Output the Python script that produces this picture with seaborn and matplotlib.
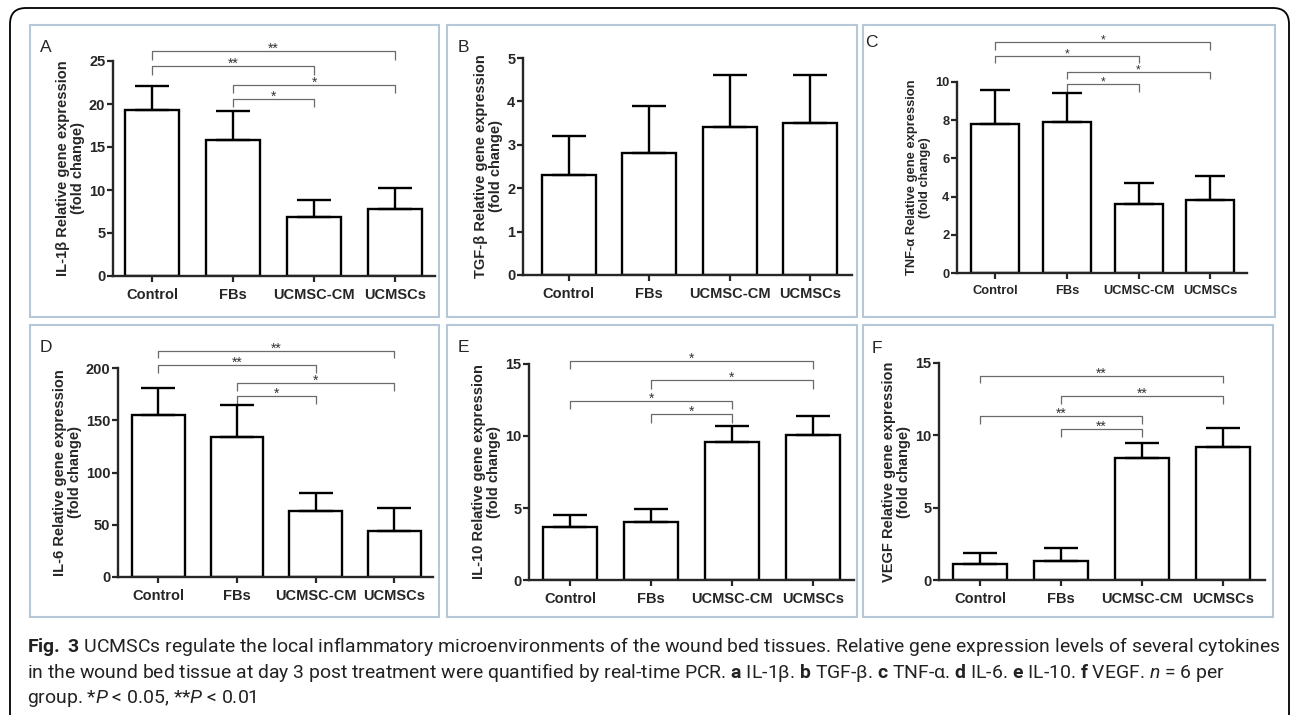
import numpy as np
import pandas as pd
import matplotlib
matplotlib.use("Agg")
import matplotlib.pyplot as plt
from matplotlib.patches import Rectangle, FancyBboxPatch
from matplotlib.transforms import IdentityTransform
import seaborn as sns

# ---- data ----
groups = ["Control", "FBs", "UCMSC-CM", "UCMSCs"]

il1b_mean = [19.3, 15.8, 6.9, 7.8]
il1b_sd = [2.8, 3.4, 1.9, 2.4]
tgfb_mean = [2.3, 2.8, 3.4, 3.5]
tgfb_sd = [0.9, 1.1, 1.2, 1.1]
tnfa_mean = [7.8, 7.9, 3.6, 3.8]
tnfa_sd = [1.8, 1.5, 1.1, 1.3]
il6_mean = [155, 134, 63, 44]
il6_sd = [26, 31, 17, 22]
il10_mean = [3.7, 4.0, 9.6, 10.1]
il10_sd = [0.8, 0.9, 1.1, 1.3]
vegf_mean = [1.1, 1.3, 8.4, 9.2]
vegf_sd = [0.8, 0.9, 1.1, 1.3]

# significance brackets: (group i, group j, bracket level, end level, stars)
il1b_sig = [(0, 3, 26.2, 25.1, "**"), (0, 2, 24.4, 23.4, "**"),
            (1, 3, 22.2, 21.3, "*"), (1, 2, 20.6, 19.65, "*")]
tgfb_sig = []
tnfa_sig = [(0, 3, 12.09, 11.68, "*"), (0, 2, 11.36, 11.0, "*"),
            (1, 3, 10.52, 10.16, "*"), (1, 2, 9.9, 9.48, "*")]
il6_sig = [(0, 3, 216, 209.6, "**"), (0, 2, 202.9, 195.2, "**"),
           (1, 3, 185.6, 178, "*"), (1, 2, 173.2, 165.6, "*")]
il10_sig = [(0, 3, 15.2, 14.65, "*"), (1, 3, 13.9, 13.26, "*"),
            (0, 2, 12.43, 11.875, "*"), (1, 2, 11.53, 10.9, "*")]
vegf_sig = [(0, 3, 14.1, 13.6, "**"), (1, 3, 12.7, 12.2, "**"),
            (0, 2, 11.33, 10.78, "**"), (1, 2, 10.44, 9.88, "**")]

ylabels = ["IL-1β", "TGF-β", "TNF-α", "IL-6", "IL-10", "VEGF"]
letters = ["A", "B", "C", "D", "E", "F"]

sns.set_style("ticks")
plt.rcParams["font.family"] = ["Liberation Sans", "DejaVu Sans"]
plt.rcParams["mathtext.fontset"] = "custom"
plt.rcParams["mathtext.rm"] = "Roboto"
plt.rcParams["mathtext.it"] = "Roboto:italic"
plt.rcParams["mathtext.bf"] = "Roboto:bold"

W, H = 1290, 715
fig = plt.figure(figsize=(W / 100, H / 100), dpi=100)
fig.patch.set_facecolor("white")

# layout in pixels (from top-left): panel box, axes (left, right, zero, top), y max, y step, xlim,
# letter position and text scale
layout = [
    dict(box=(30, 25, 439, 317), ax=(113, 435, 276, 61), ymax=25, ystep=5, xlim=(-0.48, 3.49), let=(40, 52), fs=1.0),
    dict(box=(447, 25, 857, 317), ax=(523, 852, 275, 58), ymax=5, ystep=1, xlim=(-0.57, 3.52), let=(458, 52), fs=1.0),
    dict(box=(863, 25, 1275, 317), ax=(957, 1247, 273, 82), ymax=10, ystep=2, xlim=(-0.53, 3.51), let=(865, 47), fs=0.88),
    dict(box=(30, 325, 439, 617), ax=(118, 433, 577, 368), ymax=200, ystep=50, xlim=(-0.51, 3.49), let=(40, 352), fs=1.0),
    dict(box=(447, 325, 857, 617), ax=(529, 854, 580, 364), ymax=15, ystep=5, xlim=(-0.51, 3.51), let=(458, 352), fs=1.0),
    dict(box=(863, 325, 1273, 617), ax=(939, 1265, 580, 363), ymax=15, ystep=5, xlim=(-0.51, 3.52), let=(872, 353), fs=1.0),
]

means = [il1b_mean, tgfb_mean, tnfa_mean, il6_mean, il10_mean, vegf_mean]
sds = [il1b_sd, tgfb_sd, tnfa_sd, il6_sd, il10_sd, vegf_sd]
sigs = [il1b_sig, tgfb_sig, tnfa_sig, il6_sig, il10_sig, vegf_sig]

# outer rounded frame
frame = FancyBboxPatch((10, -40), 1279, 707 + 40, boxstyle="round,pad=0,rounding_size=16",
                       transform=IdentityTransform(), fill=False, edgecolor="black", lw=1.3)
fig.add_artist(frame)

for k in range(6):
    L = layout[k]
    f = L["fs"]
    x0, y0, x1, y1 = L["box"]
    fig.add_artist(Rectangle((x0 / W, 1 - y1 / H), (x1 - x0) / W, (y1 - y0) / H,
                             transform=fig.transFigure, fill=False,
                             edgecolor="#b6c7d8", lw=1.5))
    left, right, zero, top = L["ax"]
    ax = fig.add_axes([left / W, 1 - zero / H, (right - left) / W, (zero - top) / H])
    df = pd.DataFrame({"group": groups, "value": means[k]})
    sns.barplot(data=df, x="group", y="value", ax=ax, color="white", saturation=1,
                edgecolor="black", linewidth=1.7, width=0.67, errorbar=None)
    ax.errorbar(np.arange(4), means[k], yerr=[np.zeros(4), sds[k]], fmt="none",
                ecolor="black", elinewidth=1.7, capsize=12 * f, capthick=1.7, zorder=3)
    ax.set_xlim(*L["xlim"])
    ax.set_ylim(0, L["ymax"])
    ax.set_yticks(np.arange(0, L["ymax"] + L["ystep"] / 2, L["ystep"]))
    ax.set_xlabel("")
    ax.set_ylabel(ylabels[k] + " Relative gene expression\n(fold change)",
                  fontsize=10.5 * f, fontweight="bold", labelpad=3, linespacing=1.05)
    sns.despine(ax=ax)
    for s in ["left", "bottom"]:
        ax.spines[s].set_linewidth(1.7)
    ax.tick_params(axis="both", direction="out", length=4.5, width=1.6, labelsize=10.5 * f)
    ax.tick_params(axis="x", pad=4)
    ax.tick_params(axis="y", pad=1)
    for lbl in ax.get_xticklabels() + ax.get_yticklabels():
        lbl.set_fontweight("bold")
    ax.set_facecolor("none")

    for (i, j, lev, end, stars) in sigs[k]:
        ax.plot([i, i, j, j], [end, lev, lev, end], color="#6a6a6a", lw=0.9,
                clip_on=False, solid_capstyle="butt")
        ax.annotate(stars, xy=((i + j) / 2, lev), xytext=(0, -1.2), textcoords="offset points",
                    ha="center", va="baseline", fontsize=10 * f, color="#333333",
                    annotation_clip=False)

    lx, ly = L["let"]
    fig.text(lx / W, 1 - ly / H, letters[k], fontsize=12.5, fontweight="normal",
             ha="left", va="baseline")

# caption
cap_lines = [
    r"$\mathbf{Fig.}$ $\mathbf{3}$ UCMSCs regulate the local inflammatory microenvironments of the wound bed tissues. Relative gene expression levels of several cytokines",
    r"in the wound bed tissue at day 3 post treatment were quantified by real-time PCR. $\mathbf{a}$ IL-1β. $\mathbf{b}$ TGF-β. $\mathbf{c}$ TNF-α. $\mathbf{d}$ IL-6. $\mathbf{e}$ IL-10. $\mathbf{f}$ VEGF. $\mathit{n}$ = 6 per",
    r"group. *$\mathit{P}$ < 0.05, **$\mathit{P}$ < 0.01",
]
cap_base = [652, 677.5, 703]
texts = []
for s, yb in zip(cap_lines, cap_base):
    t = fig.text(27 / W, 1 - yb / H, s, fontsize=12, family=["Roboto", "DejaVu Sans"],
                 fontweight="normal", ha="left", va="baseline", color="#222222")
    texts.append(t)

fig.canvas.draw()
r = fig.canvas.get_renderer()
w1 = texts[0].get_window_extent(r).width
fs = 12 * (1248 / w1)
for t in texts:
    t.set_fontsize(fs)

fig.savefig("out.png", dpi=100)
